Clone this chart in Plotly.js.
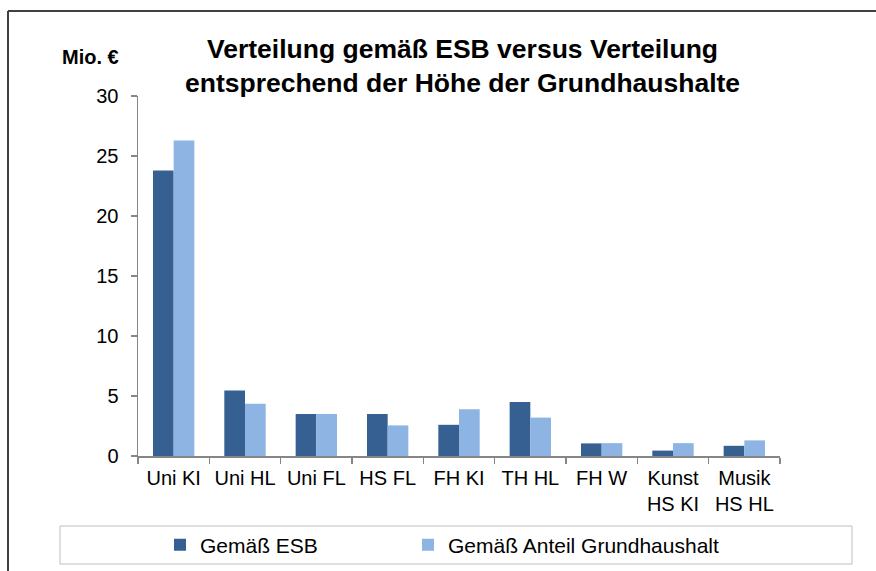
<!DOCTYPE html>
<html>
<head>
<meta charset="utf-8">
<script src="https://cdn.plot.ly/plotly-3.0.1.min.js"></script>
<style>html,body{margin:0;padding:0;background:#fff;}#chart{width:876px;height:571px;}</style>
</head>
<body>
<div id="chart"></div>
<script>
var categories = ["Uni KI", "Uni HL", "Uni FL", "HS FL", "FH KI", "TH HL", "FH W", "Kunst<br>HS KI", "Musik<br>HS HL"];
var esbValues = [23.8, 5.45, 3.5, 3.5, 2.6, 4.5, 1.05, 0.45, 0.85];
var grundValues = [26.3, 4.35, 3.5, 2.55, 3.9, 3.2, 1.07, 1.07, 1.3];
var seriesNames = ["Gemäß ESB", "Gemäß Anteil Grundhaushalt"];
var yTicks = [0, 5, 10, 15, 20, 25, 30];

var FONT = "'Liberation Sans', Arial, sans-serif";

var L = 138, R = 780, T = 96, B = 456;
function px(x) { return (x - L) / (R - L); }
function py(y) { return (B - y) / (B - T); }

var traces = [
  { type: "bar", name: seriesNames[0], x: categories, y: esbValues, marker: { color: "#376092" }, legend: "legend" },
  { type: "bar", name: seriesNames[1], x: categories, y: grundValues, marker: { color: "#8eb4e3" }, legend: "legend2" }
];

var legendCommon = {
  orientation: "h", xref: "container", yref: "container",
  xanchor: "left", y: 1 - 545 / 571, yanchor: "middle",
  itemwidth: 30, bgcolor: "rgba(0,0,0,0)", borderwidth: 0,
  font: { family: FONT, size: 21, color: "#000000" }
};

var layout = {
  width: 876, height: 571,
  margin: { l: L, r: 876 - R, t: T, b: 571 - B },
  paper_bgcolor: "#ffffff", plot_bgcolor: "#ffffff",
  font: { family: FONT, size: 20, color: "#000000" },
  barmode: "group", bargap: 0.42, bargroupgap: 0,
  title: {
    text: "<b>Verteilung gemäß ESB versus Verteilung<br>entsprechend der Höhe der Grundhaushalte</b>",
    font: { family: FONT, size: 26.5, color: "#000000" },
    xref: "container", x: 0.528, xanchor: "center",
    yref: "container", y: 1 - 58 / 571, yanchor: "top"
  },
  xaxis: {
    type: "category", automargin: false,
    showline: true, linecolor: "#868686", linewidth: 1.5,
    ticks: "outside", tickson: "boundaries", ticklen: 6, tickcolor: "#868686", tickwidth: 1.5,
    ticklabelstandoff: 3,
    showgrid: false, zeroline: false,
    tickfont: { family: FONT, size: 20, color: "#000000" }
  },
  yaxis: {
    range: [0, 30], tickvals: yTicks, ticktext: yTicks.map(String), automargin: false,
    showline: true, linecolor: "#868686", linewidth: 1.5,
    ticks: "outside", ticklen: 6, tickcolor: "#868686", tickwidth: 1.5,
    ticklabelstandoff: 8,
    showgrid: false, zeroline: false,
    tickfont: { family: FONT, size: 20, color: "#000000" }
  },
  showlegend: true,
  legend: Object.assign({}, legendCommon, { x: 160 / 876 }),
  legend2: Object.assign({}, legendCommon, { x: 408 / 876 }),
  annotations: [
    { text: "<b>Mio. €</b>", xref: "paper", yref: "paper", x: px(90), y: py(57),
      xanchor: "center", yanchor: "middle", showarrow: false,
      font: { family: FONT, size: 20, color: "#000000" } }
  ],
  shapes: [
    { type: "rect", xref: "paper", yref: "paper", x0: px(60), x1: px(852), y0: py(526), y1: py(564),
      line: { color: "#bfbfbf", width: 1 }, fillcolor: "rgba(0,0,0,0)", layer: "below" },
    { type: "line", xref: "paper", yref: "paper", x0: px(8), x1: px(880), y0: py(11), y1: py(11),
      line: { color: "#404040", width: 2 } },
    { type: "line", xref: "paper", yref: "paper", x0: px(8), x1: px(8), y0: py(11), y1: py(575),
      line: { color: "#404040", width: 2 } }
  ]
};

Plotly.newPlot("chart", traces, layout, { displayModeBar: false, staticPlot: true });
</script>
</body>
</html>
